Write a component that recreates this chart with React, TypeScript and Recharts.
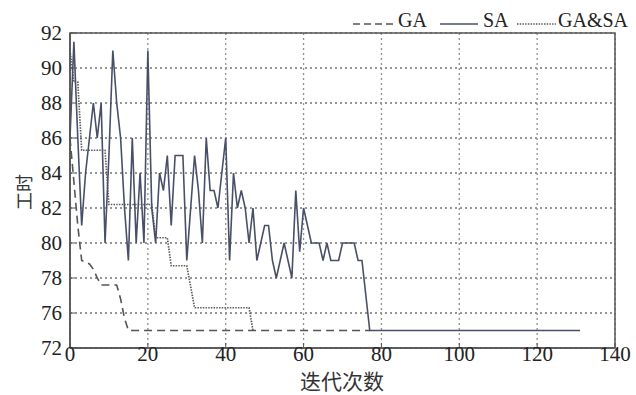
import { LineChart, Line, XAxis, YAxis, CartesianGrid, ReferenceLine, ReferenceArea } from "recharts";

// best makespan (工时) per iteration
const SA = [
  86, 91.5, 86, 81, 84, 86, 88, 86, 88, 80,
  85, 91, 88, 86, 82, 79, 86, 80, 84, 80,
  91, 82, 80, 84, 83, 85, 81, 85, 85, 85,
  79, 82, 85, 83, 80, 86, 83, 83, 82, 84,
  86, 79, 84, 82, 83, 82, 80, 82, 79, 80,
  81, 81, 79, 78, 79, 80, 79, 78, 83, 79.5,
  82, 81, 80, 80, 80, 79, 80, 79, 79, 79,
  80, 80, 80, 80, 79, 79, 77, 75, 75, 75,
  75, 75, 75, 75, 75, 75, 75, 75, 75, 75,
  75, 75, 75, 75, 75, 75, 75, 75, 75, 75,
  75, 75, 75, 75, 75, 75, 75, 75, 75, 75,
  75, 75, 75, 75, 75, 75, 75, 75, 75, 75,
  75, 75, 75, 75, 75, 75, 75, 75, 75, 75,
  75, 75,
];

const GA = [
  86, 83.5, 81, 79, 78.9, 78.8, 78.5, 78, 77.6, 77.6,
  77.6, 77.6, 77.6, 76.8, 75.7, 75, 75, 75, 75, 75,
  75, 75, 75, 75, 75, 75, 75, 75, 75, 75,
  75, 75, 75, 75, 75, 75, 75, 75, 75, 75,
  75, 75, 75, 75, 75, 75, 75, 75, 75, 75,
  75, 75, 75, 75, 75, 75, 75, 75, 75, 75,
  75, 75, 75, 75, 75, 75, 75, 75, 75, 75,
  75, 75, 75, 75, 75, 75, 75, 75,
];

const GA_SA = [
  91, 89.2, 89.2, 85.3, 85.3, 85.3, 85.3, 85.3, 85.3, 85.3,
  82.2, 82.2, 82.2, 82.2, 82.2, 82.2, 82.2, 82.2, 82.2, 82.2,
  82.2, 82.2, 80.3, 80.3, 80.3, 80.3, 78.7, 78.7, 78.7, 78.7,
  78.7, 77.5, 76.3, 76.3, 76.3, 76.3, 76.3, 76.3, 76.3, 76.3,
  76.3, 76.3, 76.3, 76.3, 76.3, 76.3, 76.3, 75,
];

const X_TICKS = [0, 20, 40, 60, 80, 100, 120, 140];
// the printed axis has no 74: its bottom tick is labelled "72"
const Y_TICKS = [74, 76, 78, 80, 82, 84, 86, 88, 90, 92];
const Y_TICK_LABELS = ["72", "76", "78", "80", "82", "84", "86", "88", "90", "92"];

const chartData = SA.map((sa, i) => ({
  iter: i,
  sa,
  ga: i < GA.length ? GA[i] : null,
  gasa: i < GA_SA.length ? GA_SA[i] : null,
}));

const SERIF = "Liberation Serif";
const CJK = "Noto Sans CJK SC";
const FRAME = "#555";
const GRID = "#909090";
const TICK_STYLE = { fontSize: 21, fill: "#222", fontFamily: SERIF };

export default function App() {
  return (
    <div
      style={{
        position: "absolute",
        left: 0,
        top: 0,
        width: 636,
        height: 395,
        background: "#fff",
        fontFamily: SERIF,
      }}
    >
      <LineChart
        width={636}
        height={395}
        data={chartData}
        margin={{ top: 33, right: 21, bottom: 0, left: 0 }}
        style={{ fontFamily: SERIF }}
      >
        <CartesianGrid
          stroke={GRID}
          strokeWidth={1.3}
          strokeDasharray="2 3"
          horizontalValues={Y_TICKS}
          verticalValues={X_TICKS}
        />
        {Y_TICKS.slice(1, -1).map((v) => (
          <ReferenceLine key={v} y={v} stroke={GRID} strokeWidth={1.3} strokeDasharray="2 3" />
        ))}
        {/* box round the plot */}
        <ReferenceArea x1={0} x2={140} y1={74} y2={92} fill="none" fillOpacity={0} stroke={FRAME} strokeWidth={1.5} />
        <XAxis
          dataKey="iter"
          type="number"
          domain={[0, 140]}
          ticks={X_TICKS}
          interval={0}
          height={47}
          axisLine={{ stroke: FRAME, strokeWidth: 1.5 }}
          tickLine={{ stroke: FRAME }}
          tickSize={-5}
          tickMargin={3}
          tick={TICK_STYLE}
        />
        <YAxis
          type="number"
          domain={[74, 92]}
          ticks={Y_TICKS}
          interval={0}
          width={70}
          axisLine={{ stroke: FRAME, strokeWidth: 1.5 }}
          tickLine={{ stroke: FRAME }}
          tickSize={-5}
          tickMargin={13}
          tick={TICK_STYLE}
          tickFormatter={(v, i) => Y_TICK_LABELS[i]}
        />
        <Line dataKey="ga" stroke="#555" strokeWidth={1.6} strokeDasharray="8 5" dot={false} isAnimationActive={false} />
        <Line dataKey="gasa" stroke="#5c5c5c" strokeWidth={1.7} strokeDasharray="1.5 1.2" dot={false} isAnimationActive={false} />
        <Line dataKey="sa" stroke="#4a4f68" strokeWidth={1.6} dot={false} isAnimationActive={false} />
      </LineChart>

      {/* legend above the frame */}
      <svg width={636} height={33} style={{ position: "absolute", left: 0, top: 0 }}>
        <line x1={353} x2={396} y1={24} y2={24} stroke="#555" strokeWidth={1.6} strokeDasharray="7 4" />
        <text x={398} y={27} fontSize={20} fontFamily={SERIF} fill="#222">GA</text>
        <line x1={440} x2={478} y1={24} y2={24} stroke="#4a4f68" strokeWidth={1.5} />
        <text x={483} y={27} fontSize={20} fontFamily={SERIF} fill="#222">SA</text>
        <line x1={517} x2={556} y1={24} y2={24} stroke="#5c5c5c" strokeWidth={1.6} strokeDasharray="1.5 1.2" />
        <text x={558} y={27} fontSize={20} fontFamily={SERIF} fill="#222">GA&amp;SA</text>
      </svg>

      <div
        style={{
          position: "absolute",
          left: 23,
          top: 192,
          transform: "translate(-50%, -50%) rotate(-90deg)",
          fontFamily: CJK,
          fontSize: 18,
          lineHeight: 1,
          color: "#333",
          whiteSpace: "nowrap",
        }}
      >
        工时
      </div>
      <div
        style={{
          position: "absolute",
          left: 342,
          top: 380,
          transform: "translate(-50%, -50%)",
          fontFamily: CJK,
          fontSize: 21,
          lineHeight: 1,
          color: "#333",
          whiteSpace: "nowrap",
        }}
      >
        迭代次数
      </div>
    </div>
  );
}
